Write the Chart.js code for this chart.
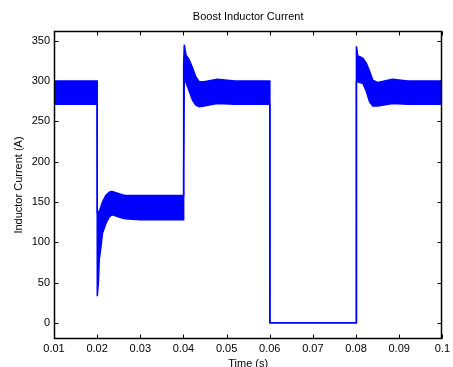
<!DOCTYPE html>
<html>
<head>
<meta charset="utf-8">
<script src="https://cdn.jsdelivr.net/npm/chart.js@4/dist/chart.umd.min.js"></script>
<style>
  html, body { margin: 0; padding: 0; background: #fff; }
  canvas { display: block; }
</style>
</head>
<body>
<canvas id="c" width="453" height="367"></canvas>
<script>
// Time samples (s) and the upper / lower envelopes of the ripple band (A)
const time = [0.0100, 0.0200, 0.02003, 0.02032, 0.02048, 0.02087, 0.02123, 0.02201, 0.02276, 0.02315,
              0.02351, 0.02579, 0.02656, 0.0300, 0.0400, 0.04003, 0.04006, 0.04019, 0.0406, 0.04137,
              0.04213, 0.04288, 0.04365, 0.04479, 0.04782, 0.0520, 0.0600, 0.06003, 0.0800, 0.08003,
              0.08006, 0.08015, 0.0804, 0.08088, 0.08161, 0.08239, 0.08314, 0.08389, 0.08503, 0.08845,
              0.0920, 0.1000];
const upperCurrent = [300, 300, 137, 138, 138, 144, 150, 158, 162, 163,
                      163, 159, 158, 158, 158, 194, 320, 345, 332, 326,
                      316, 305, 299, 299, 302, 300, 300, 0, 0, 63,
                      330, 343, 331, 330, 328, 322, 312, 301, 298, 302,
                      300, 300];
const lowerCurrent = [271, 271, 33, 53, 78, 94, 111, 123, 131, 133,
                      134, 130, 129, 128, 128, 128, 194, 300, 298, 287,
                      276, 270, 268, 269, 272, 271, 271, 0, 0, 0,
                      63, 299, 299, 298, 297, 287, 274, 269, 269, 272,
                      271, 271];
const xTickValues = [0.01, 0.02, 0.03, 0.04, 0.05, 0.06, 0.07, 0.08, 0.09, 0.1];
const yTickValues = [0, 50, 100, 150, 200, 250, 300, 350];

const FONT = "'Liberation Sans', Arial, Helvetica, sans-serif";
const BLUE = '#0000ff';

const framePlugin = {
  id: 'frame',
  afterDatasetsDraw(chart) {
    const {ctx, chartArea: a, scales} = chart;
    ctx.save();
    ctx.strokeStyle = '#000';
    ctx.lineWidth = 1;
    const L = Math.round(a.left) + 0.5, R = Math.round(a.right) - 0.5;
    const T = Math.round(a.top) + 0.5, B = Math.round(a.bottom) - 0.5;
    ctx.beginPath();
    const len = 4;
    scales.x.ticks.forEach(t => {
      const px = Math.round(scales.x.getPixelForValue(t.value)) + 0.5;
      ctx.moveTo(px, B); ctx.lineTo(px, B - len);
      ctx.moveTo(px, T); ctx.lineTo(px, T + len);
    });
    scales.y.ticks.forEach(t => {
      const py = Math.round(scales.y.getPixelForValue(t.value)) + 0.5;
      ctx.moveTo(L, py); ctx.lineTo(L + len, py);
      ctx.moveTo(R, py); ctx.lineTo(R - len, py);
    });
    ctx.stroke();
    ctx.lineWidth = 1.5;
    ctx.strokeRect(L, T, R - L, B - T);
    ctx.restore();
  }
};

new Chart(document.getElementById('c'), {
  type: 'line',
  data: {
    datasets: [
      {
        data: time.map((t, i) => ({x: t, y: upperCurrent[i]})),
        borderColor: BLUE, borderWidth: 1.5, pointRadius: 0, tension: 0, fill: false
      },
      {
        data: time.map((t, i) => ({x: t, y: lowerCurrent[i]})),
        borderColor: BLUE, borderWidth: 1.5, pointRadius: 0, tension: 0,
        fill: '-1', backgroundColor: BLUE
      }
    ]
  },
  options: {
    responsive: false,
    animation: false,
    events: [],
    layout: { padding: { left: 0, right: 4, top: 0, bottom: 0 } },
    plugins: {
      legend: { display: false },
      tooltip: { enabled: false },
      title: {
        display: true,
        text: 'Boost Inductor Current',
        color: '#000',
        fullSize: false,
        font: { family: FONT, size: 11, weight: 'normal' },
        padding: { top: 10, bottom: 7.8 }
      }
    },
    scales: {
      x: {
        type: 'linear',
        min: 0.01, max: 0.1,
        grid: { display: false, drawTicks: false },
        border: { display: false },
        afterBuildTicks: s => { s.ticks = xTickValues.map(v => ({value: v})); },
        ticks: {
          color: '#000', padding: 3, maxRotation: 0, autoSkip: false,
          font: { family: FONT, size: 11 },
          callback: v => String(Math.round(v * 100) / 100)
        },
        title: {
          display: true, text: 'Time (s)', color: '#000',
          font: { family: FONT, size: 11 },
          padding: { top: 0, bottom: -4 }
        },
        afterFit: s => { s.height = 28; }
      },
      y: {
        type: 'linear',
        min: -20, max: 362,
        grid: { display: false, drawTicks: false },
        border: { display: false },
        afterBuildTicks: s => { s.ticks = yTickValues.map(v => ({value: v})); },
        ticks: {
          color: '#000', padding: 4, autoSkip: false,
          font: { family: FONT, size: 11 }
        },
        title: {
          display: true, text: 'Inductor Current (A)', color: '#000',
          font: { family: FONT, size: 11 },
          padding: { top: 12, bottom: 0 }
        },
        afterFit: s => { s.width = 54; }
      }
    }
  },
  plugins: [framePlugin]
});
</script>
</body>
</html>
